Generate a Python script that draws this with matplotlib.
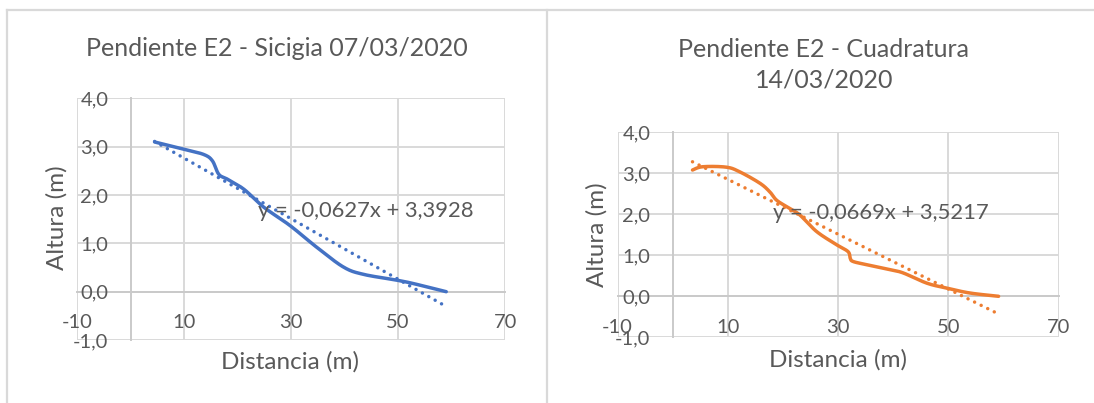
import numpy as np
import matplotlib
matplotlib.use("Agg")
import matplotlib.pyplot as plt
from matplotlib.lines import Line2D

plt.rcParams["font.family"] = ["Lato", "DejaVu Sans"]

# Beach profile E2, spring tide (sicigia)
dist_sicigia = [4.5, 10.0, 13.7, 15.3, 16.5, 18.1, 21.2, 24.9, 29.8, 34.8,
                39.8, 43.5, 49.7, 52.8, 59.0]
alt_sicigia = [3.10, 2.95, 2.84, 2.71, 2.43, 2.33, 2.12, 1.75, 1.37, 0.92,
               0.51, 0.36, 0.24, 0.17, 0.00]

# Beach profile E2, neap tide (cuadratura)
dist_cuadratura = [3.6, 5.45, 9.7, 12.1, 15.8, 17.6, 18.8, 20.6, 23.0, 26.1,
                   29.7, 31.8, 32.2, 32.7, 35.2, 39.4, 41.8, 46.1, 49.7, 53.9, 59.1]
alt_cuadratura = [3.08, 3.16, 3.15, 3.04, 2.76, 2.55, 2.35, 2.19, 1.99, 1.58,
                  1.26, 1.09, 0.93, 0.85, 0.77, 0.65, 0.57, 0.32, 0.20, 0.08, 0.00]

# Linear trendline coefficients (slope, intercept)
trend_sicigia = (-0.0627, 3.3928)
trend_cuadratura = (-0.0669, 3.5217)

titles = ["Pendiente E2 - Sicigia 07/03/2020", "Pendiente E2 - Cuadratura\n14/03/2020"]
x_ticks = [-10, 10, 30, 50, 70]
x_tick_labels = ["-10", "10", "30", "50", "70"]
y_ticks = [-1, 0, 1, 2, 3, 4]
y_tick_labels = ["-1,0", "0,0", "1,0", "2,0", "3,0", "4,0"]

TEXT = "#595959"
GRID = "#D9D9D9"
AXIS = "#CACACA"
BORDER = "#D9D9D9"
BLUE = "#4472C4"
ORANGE = "#ED7D31"

W, H = 1094, 403


def smooth(xs, ys, n=24):
    """Smoothed line through the points (cubic Bezier, Catmull-Rom tangents)."""
    P = np.column_stack([xs, ys]).astype(float)
    P = np.vstack([P[0], P, P[-1]])
    t = np.linspace(0, 1, n)[:, None]
    out = []
    for i in range(1, len(P) - 2):
        p0, p1, p2, p3 = P[i - 1], P[i], P[i + 1], P[i + 2]
        c1 = p1 + (p2 - p0) / 6.0
        c2 = p2 - (p3 - p1) / 6.0
        seg = ((1 - t) ** 3) * p1 + 3 * ((1 - t) ** 2) * t * c1 + 3 * (1 - t) * t ** 2 * c2 + t ** 3 * p2
        out.append(seg if i == 1 else seg[1:])
    seg = np.vstack(out)
    return seg[:, 0], seg[:, 1]


def fmt_eq(m, b):
    s = f"y = {m:.4f}x + {b:.4f}"
    return s.replace(".", ",")


fig = plt.figure(figsize=(W / 100, H / 100), dpi=100)
fig.patch.set_facecolor("white")


# chart borders
def px_line(x0, y0, x1, y1):
    fig.add_artist(Line2D([x0 / W, x1 / W], [1 - y0 / H, 1 - y1 / H],
                          transform=fig.transFigure, color=BORDER, lw=1.6))


px_line(7, 10, W, 10)
px_line(7, 10, 7, H + 5)
px_line(547, 10, 547, H + 5)

panels = [
    dict(rect=[77.0, 98.5, 505.1, 340.0], x=dist_sicigia, y=alt_sicigia, trend=trend_sicigia,
         color=BLUE, title=titles[0], title_xy=(276.4, 48), eq_xy=(23.8, 1.67),
         xlabel_xy=(0.498, -0.091), ylabel_xy=(-0.046, 0.505)),
    dict(rect=[617.5, 132.3, 1058.7, 337.3], x=dist_cuadratura, y=alt_cuadratura, trend=trend_cuadratura,
         color=ORANGE, title=titles[1], title_xy=(824, 65), eq_xy=(18.2, 2.03),
         xlabel_xy=(0.4998, -0.111), ylabel_xy=(-0.047, 0.499)),
]

for p in panels:
    x0, y0, x1, y1 = p["rect"]
    ax = fig.add_axes([x0 / W, 1 - y1 / H, (x1 - x0) / W, (y1 - y0) / H])
    ax.set_xlim(-10, 70)
    ax.set_ylim(-1, 4)
    ax.set_facecolor("none")

    for xv in x_ticks:
        ax.axvline(xv, color=GRID, lw=1.4, zorder=0)
    for yv in y_ticks:
        ax.axhline(yv, color=GRID, lw=1.4, zorder=0)

    for side in ["top", "right"]:
        ax.spines[side].set_visible(False)
    ax.spines["left"].set_position(("data", 0))
    ax.spines["bottom"].set_position(("data", 0))
    for side in ["left", "bottom"]:
        ax.spines[side].set_color(AXIS)
        ax.spines[side].set_linewidth(1.4)
        ax.spines[side].set_zorder(0.5)

    ax.set_xticks(x_ticks, x_tick_labels)
    ax.set_yticks(y_ticks, y_tick_labels)
    ax.tick_params(length=0, labelsize=14.5, labelcolor=TEXT)
    ax.tick_params(axis="x", pad=16)
    ax.tick_params(axis="y", pad=16)

    sx, sy = smooth(p["x"], p["y"])
    ax.plot(sx, sy, color=p["color"], lw=2.5, solid_capstyle="round", zorder=3)

    m, b = p["trend"]
    tx = np.array([p["x"][0], p["x"][-1]])
    ax.plot(tx, m * tx + b, color=p["color"], lw=2.5, linestyle=(0, (0.01, 2.1)),
            dash_capstyle="round", zorder=2)

    ax.text(p["eq_xy"][0], p["eq_xy"][1], fmt_eq(m, b), fontsize=15.8, color=TEXT,
            ha="left", va="center", zorder=4)

    ax.set_xlabel("Distancia (m)", fontsize=17.5, color=TEXT, va="center")
    ax.xaxis.set_label_coords(*p["xlabel_xy"])
    ax.set_ylabel("Altura (m)", fontsize=17.5, color=TEXT, va="center")
    ax.yaxis.set_label_coords(*p["ylabel_xy"])

    fig.text(p["title_xy"][0] / W, 1 - p["title_xy"][1] / H, p["title"], fontsize=18,
             color=TEXT, ha="center", va="center", linespacing=1.38)

fig.savefig("out.png", dpi=100)
